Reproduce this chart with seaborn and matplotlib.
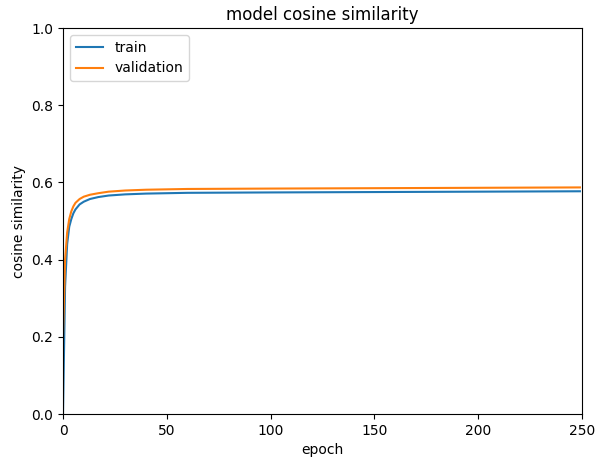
import matplotlib
matplotlib.use("Agg")
import matplotlib.pyplot as plt
import seaborn as sns
import pandas as pd

# Training history: cosine similarity per epoch
train_epochs = [0, 1, 2, 3, 4, 5, 6, 8, 10, 13, 17, 22, 30, 40, 60, 100, 150, 200, 249]
train_cos = [0.0, 0.33, 0.44, 0.485, 0.505, 0.52, 0.53, 0.543, 0.55, 0.557, 0.562,
             0.566, 0.569, 0.571, 0.573, 0.574, 0.575, 0.576, 0.577]

val_epochs = [0, 1, 2, 3, 4, 5, 6, 8, 10, 13, 17, 22, 30, 40, 60, 100, 150, 200, 249]
val_cos = [0.2, 0.40, 0.47, 0.505, 0.525, 0.538, 0.547, 0.557, 0.563, 0.568, 0.572,
           0.576, 0.579, 0.581, 0.583, 0.584, 0.585, 0.586, 0.587]

series_names = ["train", "validation"]

df = pd.concat([
    pd.DataFrame({"epoch": train_epochs, "cos": train_cos, "set": series_names[0]}),
    pd.DataFrame({"epoch": val_epochs, "cos": val_cos, "set": series_names[1]}),
])

fig = plt.figure(figsize=(5.96, 4.61), dpi=100)
ax = fig.add_axes([63 / 596, 1 - 414 / 461, (582 - 63) / 596, (414 - 28) / 461])

sns.lineplot(data=df, x="epoch", y="cos", hue="set", palette=["#1f77b4", "#ff7f0e"],
             linewidth=1.5, ax=ax, estimator=None)

ax.set_xlim(0, 250)
ax.set_ylim(0, 1.0)
ax.set_title("model cosine similarity")
ax.set_xlabel("epoch")
ax.set_ylabel("cosine similarity")
ax.legend(loc="upper left", title=None)

fig.savefig("out.png", dpi=100)
